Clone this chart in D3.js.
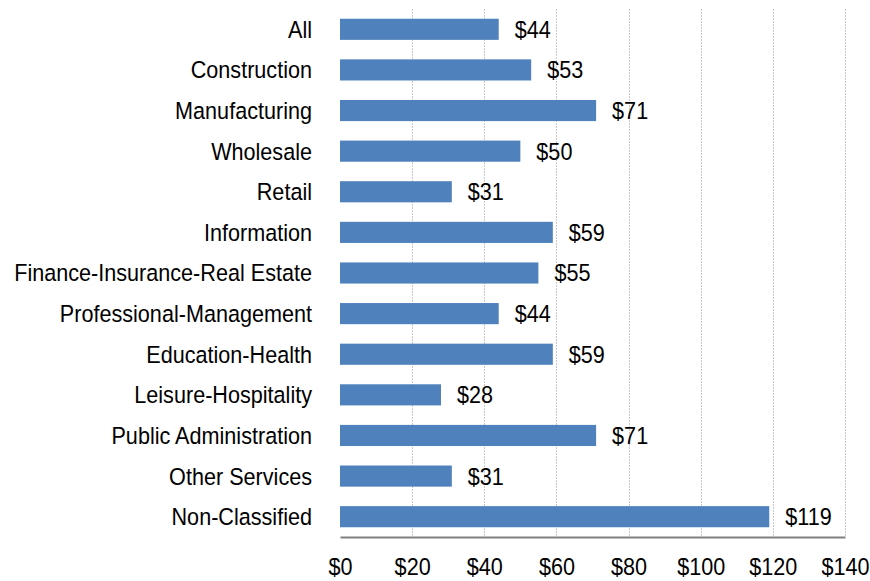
<!DOCTYPE html>
<html>
<head>
<meta charset="utf-8">
<script src="https://cdn.jsdelivr.net/npm/d3@7"></script>
<style>
  html, body { margin: 0; padding: 0; background: #fff; }
  svg text { font-family: "Liberation Sans Narrow", "Arial Narrow", "Liberation Sans", Arial, sans-serif; fill: #000; }
</style>
</head>
<body>
<svg id="chart" width="870" height="581"></svg>
<script>
// Average value per industry
const categories = [
  "All", "Construction", "Manufacturing", "Wholesale", "Retail", "Information",
  "Finance-Insurance-Real Estate", "Professional-Management", "Education-Health",
  "Leisure-Hospitality", "Public Administration", "Other Services", "Non-Classified"
];
const values = [44, 53, 71, 50, 31, 59, 55, 44, 59, 28, 71, 31, 119];
const xTicks = [0, 20, 40, 60, 80, 100, 120, 140];

const svg = d3.select("#chart");
const plotLeft = 340, plotRight = 845, plotTop = 9, plotBottom = 537;
const fontSize = 23.5, squeeze = 0.92;

const x = d3.scaleLinear().domain([0, 140]).range([plotLeft, plotRight]);
const y = d3.scaleBand().domain(categories).range([plotTop, plotBottom]).paddingInner(0.48).paddingOuter(0.24);

// vertical dotted gridlines
svg.append("g").selectAll("line")
  .data(xTicks.slice(1))
  .join("line")
  .attr("x1", d => Math.round(x(d)) + 0.5)
  .attr("x2", d => Math.round(x(d)) + 0.5)
  .attr("y1", plotTop)
  .attr("y2", plotBottom)
  .attr("stroke", "#c8c8c8")
  .attr("stroke-width", 1)
  .attr("stroke-dasharray", "2,1");

const rows = categories.map((c, i) => ({ c, v: values[i] }));

// bars
svg.append("g").selectAll("rect")
  .data(rows)
  .join("rect")
  .attr("x", x(0))
  .attr("y", d => y(d.c))
  .attr("width", d => x(d.v) - x(0))
  .attr("height", y.bandwidth())
  .attr("fill", "#4f81bd");

// value labels
svg.append("g").selectAll("text")
  .data(rows)
  .join("text")
  .attr("transform", d => `translate(${x(d.v) + 16},${y(d.c) + y.bandwidth() / 2}) scale(${squeeze},1)`)
  .attr("dy", "0.36em")
  .attr("font-size", fontSize)
  .text(d => "$" + d.v);

// category labels (left)
svg.append("g").selectAll("text")
  .data(categories)
  .join("text")
  .attr("transform", d => `translate(312,${y(d) + y.bandwidth() / 2}) scale(${squeeze},1)`)
  .attr("dy", "0.36em")
  .attr("text-anchor", "end")
  .attr("font-size", fontSize)
  .text(d => d);

// bottom axis
const xAxis = d3.axisBottom(x).tickValues(xTicks).tickSize(0).tickPadding(0)
  .tickFormat(d => "$" + d);
const gx = svg.append("g").attr("transform", `translate(0,${plotBottom})`).call(xAxis);
gx.select(".domain").attr("stroke", "#808080").attr("stroke-width", 2);
gx.selectAll("text")
  .attr("font-size", fontSize)
  .attr("fill", "#000")
  .attr("font-family", null)
  .attr("y", 0)
  .attr("dy", "0.36em")
  .attr("transform", `translate(0,30) scale(${squeeze},1)`)
  .each(function () {
    // keep each label centred on its tick after the horizontal squeeze
    const tick = d3.select(this.parentNode);
    const tx = +tick.attr("transform").match(/translate\(([-\d.]+)/)[1];
    tick.attr("transform", `translate(${tx},0)`);
  });
</script>
</body>
</html>
